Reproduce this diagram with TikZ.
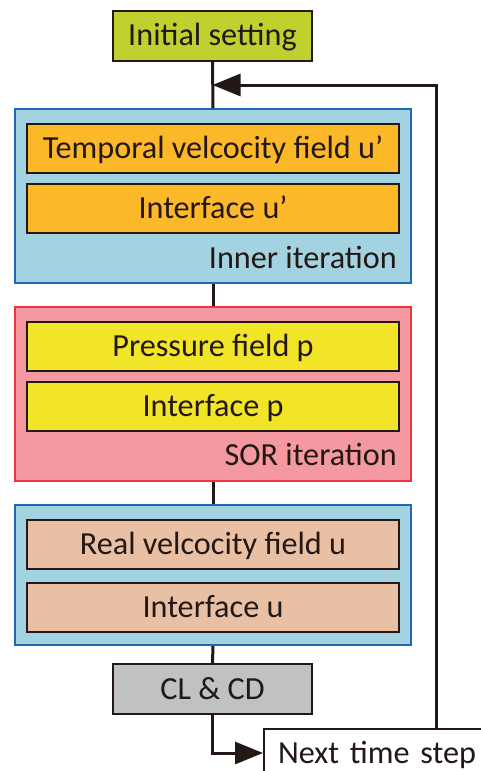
\documentclass[tikz,border=0pt]{standalone}
\usepackage{fontspec}
\setmainfont{Carlito}
\usetikzlibrary{arrows.meta,calc}
\definecolor{initgreen}{HTML}{C0D02F}
\definecolor{grpblue}{HTML}{A3D2E1}
\definecolor{grpblueline}{HTML}{1F69B0}
\definecolor{orangebox}{HTML}{FBB829}
\definecolor{grppink}{HTML}{F4999F}
\definecolor{grppinkline}{HTML}{EE3440}
\definecolor{yellowbox}{HTML}{F2E528}
\definecolor{peachbox}{HTML}{EAC0A5}
\definecolor{graybox}{HTML}{BFC1C3}
\definecolor{ink}{HTML}{231815}
\tikzset{
  % capital letters sit centred on the node
  lbl/.style={font=\fontsize{32.2}{38}\selectfont, text=ink, text height=20.7pt, text depth=0pt},
  group/.style={draw=#1, line width=2pt, minimum width=396pt, inner sep=0pt},
  stage/.style={lbl, draw=ink, line width=2pt, fill=#1, minimum width=372pt, minimum height=49pt, inner sep=0pt},
  single/.style={lbl, draw=ink, line width=2pt, fill=#1, minimum width=199pt, minimum height=50pt, inner sep=0pt},
  flow/.style={draw=ink, line width=3pt},
  tip/.style={-{Triangle[length=28pt,width=22pt]}}
}
\begin{document}
\begin{tikzpicture}[x=1pt,y=-1pt]
\useasboundingbox (0,0) rectangle (481,771);
\clip (0,0) rectangle (481,771);

% group frames
\node[group=grpblueline, fill=grpblue, minimum height=174pt] (inner) at (213,196) {};
\node[group=grppinkline, fill=grppink, minimum height=174pt] (sor) at (213,394) {};
\node[group=grpblueline, fill=grpblue, minimum height=140pt] (real) at (213,575) {};

% top and bottom single boxes
\node[single=initgreen] (init) at (212.5,35.5) {Initial setting};
\node[single=graybox] (clcd) at (212.5,689) {CL \& CD};

% inner iteration
\node[stage=orangebox] (temp) at (213,148) {Temporal velcocity field u’};
\node[stage=orangebox] (ifu1) at (213,208.5) {Interface u’};
\node[lbl, anchor=east, inner sep=0pt] (innerlbl) at (397,258) {Inner iteration};

% SOR iteration
\node[stage=yellowbox] (pres) at (213,346.5) {Pressure field p};
\node[stage=yellowbox] (ifp) at (213,406.5) {Interface p};
\node[lbl, anchor=east, inner sep=0pt] (sorlbl) at (397,455) {SOR iteration};

% velocity correction
\node[stage=peachbox] (realu) at (213,544) {Real velcocity field u};
\node[stage=peachbox] (ifu) at (213,607.5) {Interface u};

% next time step
\node[lbl, draw=ink, line width=2pt, fill=white, anchor=north west,
      minimum width=250pt, minimum height=48pt, text width=222pt,
      align=left, inner xsep=14pt] (next) at (263,728) {Next time step};

% connectors
\draw[flow] (init.south) -- (inner.north);
\draw[flow] (inner.south) -- (sor.north);
\draw[flow] (sor.south) -- (real.north);
\draw[flow] (real.south) -- (clcd.north);
\draw[flow, tip] (clcd.south) |- (next.west);
\coordinate (ret) at (436,85);
\draw[flow, tip] (next.north -| ret) -- (ret) -- (ret -| init.south);
\end{tikzpicture}
\end{document}
